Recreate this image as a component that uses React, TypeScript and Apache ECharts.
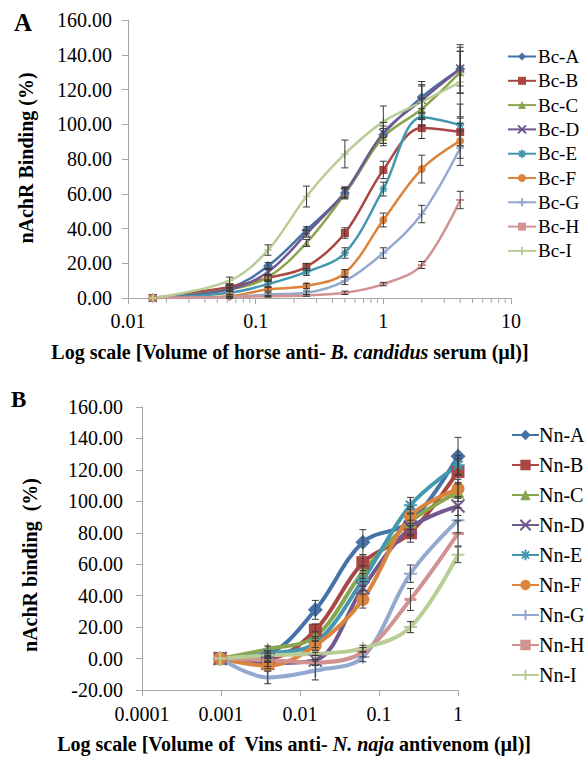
import React, { useEffect, useRef } from "react";
import * as echarts from "echarts";

// ---------- Panel A data ----------
const xA = [0.015625, 0.0625, 0.125, 0.25, 0.5, 1, 2, 4];
const namesA = ["Bc-A", "Bc-B", "Bc-C", "Bc-D", "Bc-E", "Bc-F", "Bc-G", "Bc-H", "Bc-I"];
const bcA = [0, 6, 18.4, 39, 60.5, 94, 115.6, 131.8];
const bcB = [0, 6.3, 11.5, 17.9, 37.4, 73.7, 97.8, 95.5];
const bcC = [0, 5, 12, 31.7, 60, 92.6, 108.8, 130];
const bcD = [0, 5, 15, 37, 61, 95, 114, 132];
const bcE = [0, 3, 8, 15, 25.9, 62.7, 104, 99.6];
const bcF = [0, 1, 5, 6.9, 14.4, 44.9, 74.2, 90.4];
const bcG = [0, 0.5, 2, 3, 9.8, 25.9, 48.3, 86.3];
const bcH = [0, 0.5, 1, 1.5, 3, 8, 19, 56.4];
const bcI = [0, 10, 27.6, 58.4, 82.9, 101.5, 112.8, 124.3];
const errA = [
  [0, 1.5, 2, 2, 3, 5, 9, 14],
  [0, 1, 1.5, 2, 3, 5, 6, 8],
  [0, 1, 1.5, 2, 3, 5, 6, 12],
  [0, 1, 2, 2, 3, 6, 8, 10],
  [0, 1, 1.5, 2, 3, 4, 5, 12],
  [0, 1, 1, 1.5, 2, 4, 8, 10],
  [0, 0.5, 1, 1, 2, 3, 5, 10],
  [0, 0.5, 0.5, 0.5, 1, 1, 2, 5],
  [0, 2, 3, 6, 8, 9, 10, 20],
];
const valsA = [bcA, bcB, bcC, bcD, bcE, bcF, bcG, bcH, bcI];

// ---------- Panel B data ----------
const xB = [0.0009765625, 0.00390625, 0.015625, 0.0625, 0.25, 1];
const namesB = ["Nn-A", "Nn-B", "Nn-C", "Nn-D", "Nn-E", "Nn-F", "Nn-G", "Nn-H", "Nn-I"];
const nnA = [0, 3, 31, 74, 87, 128.7];
const nnB = [0, 0, 18, 61, 80, 119];
const nnC = [0, 6, 14, 55, 87, 106];
const nnD = [0, -3, -1, 45, 83, 97];
const nnE = [0, 3, 10, 50, 97.5, 123];
const nnF = [0, -4.5, 8.3, 37.6, 90.5, 108];
const nnG = [0, -12, -7.6, 1, 54, 88];
const nnH = [0, -1, -2.5, 4, 37.6, 79.6];
const nnI = [0, 2, 3, 6.5, 20, 66];
const errB = [
  [0, 2, 6, 8, 8, 12],
  [0, 2, 4, 5, 6, 8],
  [0, 2, 3, 4, 5, 6],
  [0, 2, 3, 4, 5, 6],
  [0, 2, 3, 4, 5, 6],
  [0, 2, 3, 5.5, 6, 6],
  [0, 4, 6, 3, 5.5, 8],
  [0, 1, 2, 3, 7, 8],
  [0, 1, 1, 2, 3.5, 5],
];
const valsB = [nnA, nnB, nnC, nnD, nnE, nnF, nnG, nnH, nnI];

const yTicksA = { min: 0, max: 160, interval: 20 };
const yTicksB = { min: -20, max: 160, interval: 20 };
const minorDecadesA = [0.01, 0.1, 1];
const minorSteps = [2, 3, 4, 5, 6, 7, 8, 9];

const colors = ["#4572A7", "#AA4643", "#89A54E", "#71588F", "#4198AF", "#DB843D", "#93A9CF", "#D19392", "#B9CD96"];
const SYM_X = "path://M0,0L10,10M10,0L0,10";
const SYM_STAR = "path://M5,0L5,10M0,5L10,5M1.5,1.5L8.5,8.5M8.5,1.5L1.5,8.5";
const SYM_PLUS = "path://M5,0L5,10M0,5L10,5";
const symbols = ["diamond", "rect", "triangle", SYM_X, SYM_STAR, "circle", SYM_PLUS, "rect", SYM_PLUS];

const FONT = "Liberation Serif";

function fmtLog(v: number) {
  return String(parseFloat(Number(v).toPrecision(6)));
}

function lineSeries(names: string[], xs: number[], vals: number[][], idx: number, thick: boolean) {
  return names.map((n, i) => {
    const sym = symbols[i];
    const isStroke = sym.startsWith("path://");
    let size: any = thick ? 13 : 8;
    if (i === 7) size = thick ? [12, 3] : [8, 2];
    if (i === 0) size = thick ? 15 : 10;
    return {
      type: "line",
      name: n,
      xAxisIndex: idx,
      yAxisIndex: idx,
      data: xs.map((x, k) => [x, vals[i][k]]),
      smooth: 0.35,
      symbol: sym,
      symbolSize: size,
      showSymbol: true,
      lineStyle: { color: colors[i], width: thick ? 4 : 2.5 },
      itemStyle: {
        color: colors[i],
        borderColor: colors[i],
        borderWidth: isStroke ? (thick ? 2 : 1.5) : 0,
      },
      z: 3,
    };
  });
}

function errSeries(xs: number[], vals: number[][], errs: number[][], idx: number) {
  const data: number[][] = [];
  vals.forEach((v, i) => {
    v.forEach((y, k) => {
      if (errs[i][k] > 0) data.push([xs[k], y - errs[i][k], y + errs[i][k]]);
    });
  });
  return {
    type: "custom",
    xAxisIndex: idx,
    yAxisIndex: idx,
    silent: true,
    z: 4,
    data,
    renderItem: (params: any, api: any) => {
      const x = api.value(0);
      const lo = api.coord([x, api.value(1)]);
      const hi = api.coord([x, api.value(2)]);
      const w = 3.5;
      const st = { stroke: "#3a3a3a", lineWidth: 1 };
      return {
        type: "group",
        children: [
          { type: "line", shape: { x1: lo[0], y1: lo[1], x2: hi[0], y2: hi[1] }, style: st },
          { type: "line", shape: { x1: lo[0] - w, y1: lo[1], x2: lo[0] + w, y2: lo[1] }, style: st },
          { type: "line", shape: { x1: hi[0] - w, y1: hi[1], x2: hi[0] + w, y2: hi[1] }, style: st },
        ],
      };
    },
  };
}

function minorTickSeries() {
  const data: number[][] = [];
  minorDecadesA.forEach((d) => minorSteps.forEach((s) => data.push([d * s, 0])));
  return {
    type: "custom",
    xAxisIndex: 0,
    yAxisIndex: 0,
    silent: true,
    clip: false,
    data,
    renderItem: (params: any, api: any) => {
      const p = api.coord([api.value(0), api.value(1)]);
      return {
        type: "line",
        shape: { x1: p[0], y1: p[1], x2: p[0], y2: p[1] + 5 },
        style: { stroke: "#a6a6a6", lineWidth: 1 },
      };
    },
  };
}

export default function App() {
  const ref = useRef<HTMLDivElement>(null);
  useEffect(() => {
    if (!ref.current) return;
    const chart = echarts.init(ref.current, undefined, { renderer: "svg" });
    const axisLine = { show: true, onZero: false, lineStyle: { color: "#a6a6a6", width: 1 } };
    const axisTick = { show: true, inside: false, length: 6, lineStyle: { color: "#a6a6a6" } };
    const labelStyle = { fontFamily: FONT, fontSize: 20, color: "#000" };
    const richTitle = {
      b: { fontFamily: FONT, fontWeight: "bold", fontSize: 20, color: "#000" },
      i: { fontFamily: FONT, fontWeight: "bold", fontStyle: "italic", fontSize: 20, color: "#000" },
    };
    const option: any = {
      animation: false,
      backgroundColor: "#fff",
      grid: [
        { left: 128, right: 77, top: 20, bottom: 460, containLabel: false },
        { left: 142, right: 130, top: 407, bottom: 68, containLabel: false },
      ],
      xAxis: [
        {
          gridIndex: 0, type: "log", logBase: 10, min: 0.01, max: 10,
          axisLine, axisTick, splitLine: { show: false },
          axisLabel: { ...labelStyle, margin: 13, formatter: fmtLog },
        },
        {
          gridIndex: 1, type: "log", logBase: 10, min: 0.0001, max: 1,
          axisLine, axisTick, splitLine: { show: false },
          axisLabel: { ...labelStyle, margin: 14, formatter: fmtLog },
        },
      ],
      yAxis: [
        {
          gridIndex: 0, type: "value", ...yTicksA,
          axisLine, axisTick, splitLine: { show: false },
          axisLabel: { ...labelStyle, margin: 16, formatter: (v: number) => v.toFixed(2) },
        },
        {
          gridIndex: 1, type: "value", ...yTicksB,
          axisLine, axisTick, splitLine: { show: false },
          axisLabel: { ...labelStyle, margin: 19, formatter: (v: number) => v.toFixed(2) },
        },
      ],
      legend: [
        {
          data: namesA, orient: "vertical", left: 507, top: 47, padding: 0,
          itemWidth: 28, itemHeight: 10, itemGap: 5.3,
          textStyle: { fontFamily: FONT, fontSize: 19, color: "#000", padding: [0, 0, 0, -3] },
        },
        {
          data: namesB, orient: "vertical", left: 511, top: 425, padding: 0,
          itemWidth: 27, itemHeight: 13, itemGap: 10,
          textStyle: { fontFamily: FONT, fontSize: 20, color: "#000", padding: [0, 0, 0, -5] },
        },
      ],
      series: [
        minorTickSeries(),
        ...lineSeries(namesA, xA, valsA, 0, false),
        errSeries(xA, valsA, errA, 0),
        ...lineSeries(namesB, xB, valsB, 1, true),
        errSeries(xB, valsB, errB, 1),
      ],
      graphic: [
        { type: "text", left: 14, top: 10, style: { text: "A", font: `bold 25px "${FONT}"`, fill: "#000" } },
        { type: "text", left: 11, top: 388, style: { text: "B", font: `bold 23px "${FONT}"`, fill: "#000" } },
        {
          type: "text", x: 26, y: 158, rotation: Math.PI / 2,
          style: { text: "nAchR Binding (%)", font: `bold 20px "${FONT}"`, fill: "#000", align: "center", verticalAlign: "middle" },
        },
        {
          type: "text", x: 30, y: 565, rotation: Math.PI / 2,
          style: { text: "nAchR binding  (%)", font: `bold 20px "${FONT}"`, fill: "#000", align: "center", verticalAlign: "middle" },
        },
        {
          type: "text", x: 290, y: 352,
          style: {
            text: "{b|Log scale [Volume of horse anti- }{i|B. candidus}{b| serum (µl)]}",
            align: "center", verticalAlign: "middle", rich: richTitle,
          },
        },
        {
          type: "text", x: 294, y: 744,
          style: {
            text: "{b|Log scale [Volume of  Vins anti- }{i|N. naja}{b| antivenom (µl)]}",
            align: "center", verticalAlign: "middle", rich: richTitle,
          },
        },
      ],
    };
    chart.setOption(option);
    return () => chart.dispose();
  }, []);
  return <div ref={ref} style={{ width: 588, height: 758, position: "absolute", left: 0, top: 0 }} />;
}
